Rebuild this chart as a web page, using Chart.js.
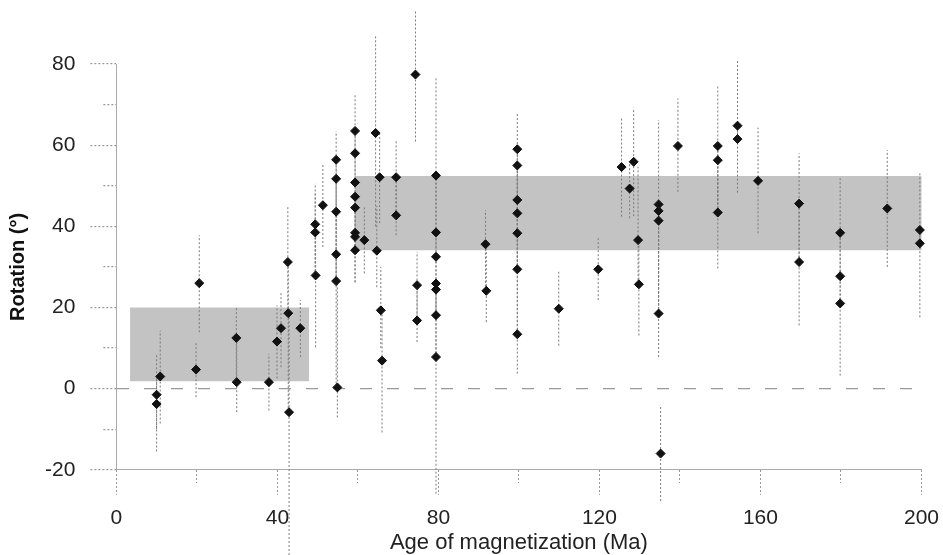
<!DOCTYPE html>
<html>
<head>
<meta charset="utf-8">
<script src="https://cdn.jsdelivr.net/npm/chart.js@4.4.1/dist/chart.umd.min.js"></script>
<style>
    html, body { margin: 0; padding: 0; background: #fff; }
    #wrap { width: 943px; height: 555px; position: relative; }
</style>
</head>
<body>
<div id="wrap"><canvas id="rotChart"></canvas></div>
<script>
    "use strict";

    // Age of magnetization (Ma) for each site
    var ages = [10.0, 10.0, 10.9, 20.6, 19.8, 29.8, 29.9, 37.9, 39.9, 40.9,
        42.6, 42.7, 42.9, 45.7, 49.4, 49.4, 49.5, 51.3, 54.6, 54.6,
        54.6, 54.6, 54.6, 54.9, 59.3, 59.3, 59.3, 59.3, 59.3, 59.3,
        59.3, 59.3, 61.6, 64.4, 64.7, 65.4, 65.7, 66.0, 69.5, 69.5,
        74.3, 74.7, 74.7, 79.4, 79.4, 79.4, 79.4, 79.4, 79.4, 79.4,
        91.7, 91.9, 99.6, 99.6, 99.6, 99.6, 99.6, 99.6, 99.6, 109.9,
        119.7, 125.5, 127.5, 128.5, 129.6, 129.8, 134.7, 134.7, 134.7, 134.7,
        135.2, 139.5, 149.4, 149.4, 149.4, 154.3, 154.3, 159.4, 169.6, 169.6,
        179.8, 179.8, 179.8, 191.5, 199.6, 199.6];

    // Rotation (deg)
    var rotations = [-1.5, -3.8, 3.0, 26.0, 4.7, 12.5, 1.6, 1.6, 11.6, 14.9,
        31.2, 18.6, -5.8, 14.9, 40.5, 38.5, 27.9, 45.2, 56.4, 51.7,
        43.6, 33.1, 26.5, 0.3, 63.5, 58.0, 50.8, 47.3, 44.6, 38.4,
        37.4, 34.1, 36.6, 63.0, 34.0, 52.1, 19.3, 6.9, 52.1, 42.7,
        77.4, 25.5, 16.8, 52.5, 38.5, 32.5, 25.9, 24.4, 18.1, 7.8,
        35.6, 24.1, 59.0, 55.0, 46.5, 43.2, 38.3, 29.4, 13.4, 19.7,
        29.4, 54.6, 49.3, 55.9, 36.6, 25.7, 45.4, 43.8, 41.4, 18.5,
        -16.0, 59.8, 59.8, 56.3, 43.4, 64.8, 61.5, 51.2, 45.6, 31.2,
        38.4, 27.7, 21.0, 44.4, 39.1, 35.8];

    // lower / upper end of each error bar (deg)
    var rotLow = [-10, -15.5, -8.6, 13.9, -2.1, 1.6, -5.8, -5.4, 2.5, 5.3,
        18.6, -5.8, -41, 7.8, 27.9, 27.9, 10.2, 34.9, 43.6, 33.1,
        26.5, 26.5, 0.3, -7.1, 58.0, 50.8, 44.6, 38.4, 34.1, 34.1,
        26.2, 26.2, 28.4, 40, 25, 40.8, 10, -10.8, 42.7, 37.8,
        60.9, 16.8, 11.5, 38.5, 32.5, 25.9, 18.1, 18.1, 7.8, -25.9,
        24.1, 16.4, 46.5, 43.2, 38.3, 29.4, 29.4, 13.4, 3.7, 10.6,
        21.8, 42.4, 42.0, 42.5, 25.7, 13.1, 41.4, 18.5, 18.5, 7.8,
        -27.7, 48.5, 43.4, 43.4, 29.6, 61.5, 48.3, 38.3, 31.2, 15.6,
        27.7, 21.0, 3.2, 30.0, 35.8, 17.6];
    var rotHigh = [8.7, 3, 14.3, 37.8, 11.5, 20.1, 12.5, 8.6, 20.5, 23.8,
        44.7, 31.2, 18.6, 21.8, 50.6, 48, 38.5, 55.6, 63.4, 56.4,
        51.7, 43.6, 33.1, 26.5, 72.4, 63.5, 58, 50.8, 47.3, 44.6,
        38.4, 37.4, 45, 86.8, 45, 63, 30, 19.3, 61.3, 52.1,
        93.4, 33.7, 25.5, 76.5, 52.5, 38.5, 32.5, 25.9, 25.9, 18.1,
        44, 35.6, 68.0, 59, 55, 46.5, 43.2, 38.3, 29.4, 28.8,
        37.1, 67.0, 55.6, 69.2, 54.7, 36.6, 66.2, 45.4, 43.8, 41.4,
        -4.2, 71.5, 74.9, 59.8, 56.3, 81.1, 64.8, 64.3, 58.0, 45.6,
        52.2, 38.4, 27.7, 58.8, 53.5, 39.1];

    // shaded bands (age range and rotation range)
    var bandAgeFrom = [3.4, 59.3];
    var bandAgeTo = [47.9, 201];
    var bandRotLow = [1.8, 34.1];
    var bandRotHigh = [20.0, 52.4];

    // labelled ticks
    var xLabels = [0, 40, 80, 120, 160, 200];
    var yLabels = [-20, 0, 20, 40, 60, 80];

    var FONT = "'Liberation Sans', Arial, Helvetica, sans-serif";

    var points = ages.map(function (a, i) {
        return {x: a, y: rotations[i]};
    });

    // error bars: low -> high, then a gap
    var bars = [];
    ages.forEach(function (a, i) {
        bars.push({x: a, y: rotLow[i]});
        bars.push({x: a, y: rotHigh[i]});
        bars.push({x: a, y: null});
    });

    var datasets = [{
        label: 'sites',
        data: points,
        showLine: false,
        pointStyle: 'rectRot',
        pointRadius: 4.5,
        pointBackgroundColor: '#111',
        pointBorderColor: '#111',
        pointBorderWidth: 1,
        clip: false
    }, {
        label: 'errors',
        data: bars,
        borderColor: '#7a7a7a',
        borderWidth: 1,
        borderDash: [2, 2],
        pointRadius: 0,
        spanGaps: false,
        tension: 0,
        fill: false,
        clip: false
    }];

    // each band = top edge filled down to bottom edge
    bandAgeFrom.forEach(function (from, i) {
        datasets.push({
            label: 'band' + i,
            data: [{x: from, y: bandRotHigh[i]}, {x: bandAgeTo[i], y: bandRotHigh[i]}],
            borderWidth: 0,
            pointRadius: 0,
            backgroundColor: '#c3c3c3',
            fill: '+1',
            clip: false
        });
        datasets.push({
            label: 'band' + i + 'low',
            data: [{x: from, y: bandRotLow[i]}, {x: bandAgeTo[i], y: bandRotLow[i]}],
            borderWidth: 0,
            pointRadius: 0,
            fill: false,
            clip: false
        });
    });

    var ctx = document.getElementById('rotChart').getContext('2d');
    var rotChart = new Chart(ctx, {
        type: 'line',
        data: {datasets: datasets},
        options: {
            responsive: true,
            maintainAspectRatio: false,
            animation: false,
            layout: {padding: {left: 6, right: 15, top: 64, bottom: 1}},
            plugins: {
                legend: {display: false},
                tooltip: {enabled: false}
            },
            scales: {
                x: {
                    type: 'linear',
                    min: 0,
                    max: 200,
                    ticks: {
                        stepSize: 20,
                        autoSkip: false,
                        maxRotation: 0,
                        padding: 4,
                        color: '#222',
                        font: {family: FONT, size: 21},
                        callback: function (v) {
                            return xLabels.indexOf(v) >= 0 ? String(v) : '';
                        }
                    },
                    grid: {
                        drawOnChartArea: false,
                        tickLength: 32,
                        tickColor: '#999',
                        // long dotted tick on labelled values, short one between
                        tickBorderDash: function (c) {
                            var major = c.tick && xLabels.indexOf(c.tick.value) >= 0;
                            return major ? [2, 2, 2, 2, 2, 2, 2, 2, 2, 2, 2, 2, 1, 100]
                                         : [2, 2, 2, 2, 2, 2, 1, 100];
                        }
                    },
                    border: {color: '#aaa'},
                    title: {
                        display: true,
                        text: 'Age of magnetization (Ma)',
                        color: '#222',
                        font: {family: FONT, size: 22, lineHeight: 1},
                        padding: {top: -3, bottom: 0}
                    }
                },
                y: {
                    type: 'linear',
                    min: -20,
                    max: 80,
                    ticks: {
                        stepSize: 10,
                        padding: 15,
                        color: '#222',
                        font: {family: FONT, size: 21},
                        callback: function (v) {
                            return yLabels.indexOf(v) >= 0 ? String(v) : '';
                        }
                    },
                    grid: {
                        color: function (c) {
                            return c.tick && c.tick.value === 0 ? '#9a9a9a' : 'rgba(0,0,0,0)';
                        },
                        lineWidth: 1.2,
                        tickLength: 26,
                        tickColor: '#999',
                        tickBorderDash: function (c) {
                            var major = c.tick && yLabels.indexOf(c.tick.value) >= 0;
                            return major ? [2, 2] : [0, 13, 2, 2, 2, 2, 2, 2, 2, 2];
                        }
                    },
                    border: {color: '#aaa', dash: [12, 15]},
                    title: {
                        display: true,
                        text: 'Rotation (°)',
                        color: '#111',
                        font: {family: FONT, size: 20, weight: 'bold'},
                        padding: {top: 0, bottom: 0}
                    }
                }
            }
        }
    });
</script>
</body>
</html>
